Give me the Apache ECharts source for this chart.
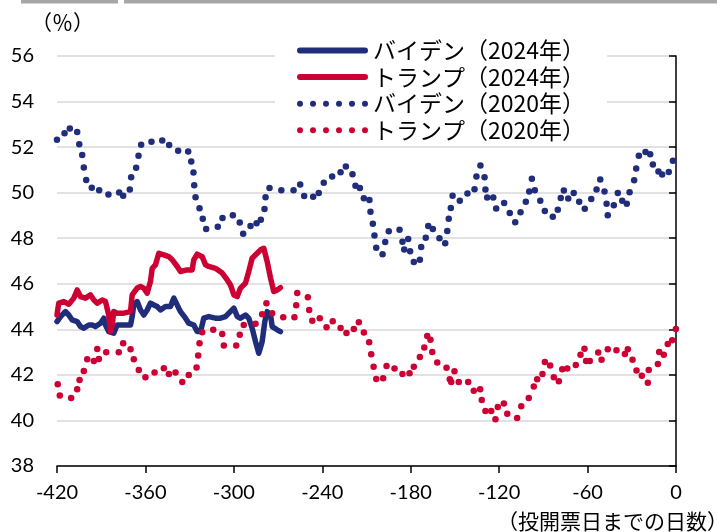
<!DOCTYPE html>
<html><head><meta charset="utf-8">
<script src="https://cdn.jsdelivr.net/npm/echarts@6/dist/echarts.min.js"></script>
<style>html,body{margin:0;padding:0;background:#fff}#c{width:717px;height:532px}</style>
</head><body><div id="c"></div>
<script>
// ---- data (x = days until election day, y = %) ----
const seriesNames = ['バイデン（2024年）','トランプ（2024年）','バイデン（2020年）','トランプ（2020年）'];
const xTicks = {min:-420, max:0, interval:60};
const yTicks = {min:38, max:56, interval:2};

const biden2024 = [[-420,44.34],[-417.6,44.56],[-414.2,44.78],[-412,44.63],[-409.7,44.41],[-406.3,44.34],[-404.1,44.12],[-401.8,44.05],[-398.4,44.19],[-396.1,44.19],[-393.9,44.12],[-390.5,44.27],[-388.2,44.49],[-387.1,44.19],[-384.9,43.9],[-381.5,43.83],[-379.2,44.19],[-375.8,44.19],[-370.1,44.19],[-369,44.56],[-367.9,45.07],[-365.6,45.22],[-363.3,44.85],[-361.1,44.63],[-358.8,44.85],[-356.6,45.15],[-354.3,45.07],[-352,45],[-349.8,44.85],[-346.4,45],[-343,45],[-340.7,45.37],[-339.6,45.32],[-337.4,44.93],[-336.2,44.78],[-332.8,44.49],[-330.6,44.27],[-327.2,44.19],[-324.9,43.9],[-322.6,43.9],[-320.4,44.49],[-317,44.56],[-312.5,44.49],[-309.1,44.49],[-305.7,44.56],[-303.4,44.71],[-300,44.93],[-297.7,44.56],[-295.5,44.49],[-292.1,44.63],[-289.9,44.49],[-287.6,44.05],[-285.3,43.46],[-283.1,42.95],[-280.8,43.46],[-279,44.34],[-277.4,44.78],[-275.1,44.63],[-274,44.12],[-270.6,43.98],[-268.4,43.9]];

const trump2024 = [[-420,44.63],[-418.8,45.15],[-415.4,45.22],[-412,45.1],[-408.6,45.37],[-406.3,45.73],[-404.1,45.44],[-400.7,45.37],[-397.3,45.51],[-395,45.29],[-392.7,45.15],[-389.3,45.29],[-387.1,45.22],[-384.9,44.63],[-383.7,43.9],[-382.5,44.19],[-381.5,44.78],[-379.2,44.71],[-374.7,44.71],[-370.1,44.78],[-369,45.51],[-365.6,45.81],[-363.3,45.88],[-361.1,45.81],[-358.8,45.59],[-356.6,46.1],[-355.4,46.68],[-353.2,46.83],[-350.9,47.34],[-347.5,47.27],[-344.1,47.19],[-341.8,47.05],[-338.4,46.76],[-336.2,46.54],[-331.7,46.61],[-328.3,46.61],[-327.2,47.05],[-324.9,47.3],[-321.5,47.19],[-319.2,46.83],[-317,46.76],[-312.5,46.68],[-307.9,46.47],[-304.5,46.17],[-302.3,45.95],[-300,45.51],[-297.7,45.44],[-295.5,45.81],[-292.1,46.03],[-289.9,46.54],[-287.6,47.12],[-284.2,47.34],[-281.9,47.49],[-279.7,47.56],[-277.4,46.98],[-275.1,46.25],[-272.9,45.66],[-270.6,45.73],[-268.4,45.83]];

const biden2020 = [[-420,52.32],[-414.9,52.61],[-411.3,52.82],[-406.3,52.66],[-404.9,52.13],[-402.9,51.65],[-401.8,51.1],[-400.2,50.56],[-396.4,50.22],[-391.4,50.11],[-385.1,49.92],[-377.8,50.01],[-375.1,49.87],[-370.6,50.14],[-369.7,50.68],[-366.3,51.09],[-364.7,51.62],[-362.9,52.1],[-355.9,52.24],[-348.6,52.29],[-343.9,52.09],[-337.8,51.84],[-331,51.81],[-328.9,51.37],[-327.4,50.88],[-326.9,50.33],[-326,49.8],[-323.3,49.32],[-321.1,48.86],[-318.8,48.41],[-310.9,48.5],[-307.7,48.89],[-300.7,49.01],[-296,48.69],[-293.7,48.2],[-288.7,48.54],[-284.6,48.66],[-281.7,48.81],[-279.2,49.28],[-278.5,49.8],[-275.8,50.2],[-267.8,50.11],[-259.5,50.11],[-255,50.36],[-252.3,49.85],[-246.2,49.82],[-242.4,49.99],[-239,50.43],[-233.3,50.71],[-227.6,50.9],[-224,51.15],[-219.5,50.81],[-217.5,50.3],[-214.5,50.21],[-211.8,49.76],[-208,49.68],[-207.3,49.16],[-205.7,48.64],[-204.6,48.12],[-203.4,47.58],[-199.1,47.3],[-197.3,47.83],[-194.9,48.31],[-187.6,48.37],[-185.6,47.84],[-184.4,47.5],[-181.7,47.97],[-180.4,47.43],[-177.9,46.96],[-173.8,47.05],[-172.9,47.61],[-169.8,48.02],[-168.1,48.54],[-165,48.41],[-160.5,48],[-156.6,47.78],[-155.2,48.32],[-154.2,48.85],[-152.8,49.33],[-151.6,49.87],[-146.7,49.64],[-141.5,49.96],[-136.7,50.15],[-135.4,50.71],[-132.7,51.19],[-129.9,50.68],[-129.3,50.14],[-128.1,49.79],[-124,49.79],[-122,49.3],[-116.6,49.55],[-112.8,49.11],[-109.1,48.7],[-105.5,49.14],[-101.9,49.6],[-99.6,50.05],[-97.8,50.61],[-95.8,50.11],[-92.1,49.65],[-89,49.2],[-83.6,48.94],[-80.2,49.25],[-78.2,49.77],[-76.1,50.09],[-73.1,49.74],[-69.4,49.99],[-65.7,49.6],[-61.9,49.29],[-57.5,49.72],[-53.9,50.14],[-51.4,50.58],[-48.5,50.05],[-47.1,49.51],[-46.3,49.01],[-42.2,49.45],[-39.5,49.98],[-36.5,49.64],[-33.4,49.51],[-31.5,50.02],[-28.4,50.55],[-27,51.06],[-25.2,51.62],[-20.7,51.79],[-17.5,51.69],[-15.7,51.24],[-11.9,50.93],[-9.4,50.8],[-4.9,50.91],[-2.1,51.4]];

const trump2020 = [[-419.5,41.59],[-418.1,41.09],[-410.4,40.98],[-406.3,41.37],[-404.7,41.78],[-401.8,42.17],[-399.5,42.69],[-395,42.61],[-392.7,43.14],[-391.6,42.7],[-386.6,42.99],[-378.1,42.99],[-375.1,43.39],[-370.1,43.13],[-367.9,42.69],[-364.5,42.22],[-360,41.9],[-353.8,42.1],[-347.5,42.29],[-344.1,42.04],[-339.6,42.1],[-335,41.69],[-330.6,41.99],[-325.3,42.32],[-324.2,42.85],[-323.3,43.39],[-321.5,43.87],[-314,43.98],[-307.9,43.79],[-306.8,43.29],[-298.4,43.29],[-296,43.76],[-293.3,44.19],[-285.3,44.24],[-280.8,44.66],[-277.9,45.15],[-274,44.71],[-266.5,44.53],[-258.9,44.53],[-257.7,45.06],[-257,45.59],[-249.8,45.41],[-248.9,44.85],[-246.8,44.38],[-241.7,44.49],[-237.1,44.09],[-232.9,44.36],[-227.6,44.06],[-223.6,43.84],[-218.6,44.02],[-215.2,44.31],[-211.8,43.86],[-208.2,43.43],[-206.8,42.91],[-205.2,42.36],[-203.4,41.82],[-198.7,41.85],[-196.4,42.39],[-191,42.28],[-185.6,42.04],[-180.8,42.07],[-177.9,42.36],[-173.8,42.78],[-170.8,43.2],[-168.8,43.71],[-166.6,43.54],[-165.4,43],[-162,42.54],[-155.7,42.31],[-153.5,41.81],[-152.5,41.69],[-150.3,42.16],[-147.4,41.69],[-141,41.69],[-137.2,41.3],[-132.9,41.37],[-131.8,40.9],[-129.3,40.41],[-125.4,40.41],[-122.5,40.05],[-120.9,40.59],[-116.8,40.74],[-114.5,40.29],[-107.8,40.11],[-105,40.62],[-99.9,40.99],[-96.5,41.49],[-94.2,41.81],[-90.6,42.04],[-89,42.57],[-85.4,42.41],[-82.9,41.9],[-79.5,41.72],[-77.2,42.25],[-73.8,42.28],[-68,42.43],[-64.8,42.88],[-62.1,43.15],[-61,42.61],[-58.5,42.61],[-52.8,42.98],[-50.5,42.67],[-46.3,43.13],[-40.4,43.08],[-34.7,42.92],[-32.7,43.13],[-29.5,42.66],[-26.8,42.19],[-23.2,41.96],[-19.1,41.66],[-18.5,42.21],[-12.3,42.48],[-11.4,43.01],[-8.3,42.88],[-5.6,43.36],[-2.6,43.52],[-0.1,44.01]];

const yUnit = '（％）';
const xName = '（投開票日までの日数）';

// ---- styling ----
const NAVY = '#1f2d7b', RED = '#cc0033';
const JP = '"Noto Sans CJK JP", sans-serif';
const NUM = 'Lato, "Liberation Sans", sans-serif';
const solidIcon = 'path://M3,0H68A3,3,0,0,1,68,6H3A3,3,0,0,1,3,0Z';
let dots = '';
for (let i = 0; i < 6; i++) { const cx = 3 + i * 13; dots += 'M' + (cx - 3) + ',3a3,3 0 1,0 6,0a3,3 0 1,0 -6,0'; }
const dotIcon = 'path://' + dots;

const chart = echarts.init(document.getElementById('c'), null, {renderer:'canvas'});
chart.setOption({
  animation:false,
  backgroundColor:'#fff',
  grid:{left:57, right:41, top:56, bottom:66},
  xAxis:{type:'value', min:xTicks.min, max:xTicks.max, interval:xTicks.interval,
    axisLine:{lineStyle:{color:'#000', width:1.5}},
    axisTick:{show:true, length:7, lineStyle:{color:'#000', width:1.5}},
    axisLabel:{color:'#000', fontSize:20, fontFamily:NUM, margin:17},
    splitLine:{show:false}},
  yAxis:{type:'value', min:yTicks.min, max:yTicks.max, interval:yTicks.interval,
    axisLine:{show:true, lineStyle:{color:'#000', width:1.5}},
    axisTick:{show:true, length:7, lineStyle:{color:'#000', width:1.5}},
    axisLabel:{color:'#000', fontSize:20, fontFamily:NUM, margin:23},
    splitLine:{show:true, lineStyle:{color:'#d9d9d9', width:1.5}}},
  legend:{orient:'vertical', left:275, top:33, backgroundColor:'#fff',
    padding:[6,22,4,22], itemWidth:71, itemHeight:6, itemGap:3.6,
    textStyle:{fontFamily:JP, fontSize:23, color:'#000', lineHeight:22},
    data:[
      {name:seriesNames[0], icon:solidIcon},
      {name:seriesNames[1], icon:solidIcon},
      {name:seriesNames[2], icon:dotIcon},
      {name:seriesNames[3], icon:dotIcon}
    ]},
  graphic:[
    {type:'rect', shape:{x:21, y:0, width:97, height:3.5}, style:{fill:'#a6a6a6'}},
    {type:'rect', shape:{x:124, y:0, width:593, height:3.5}, style:{fill:'#a6a6a6'}},
    {type:'text', x:31, y:22, style:{text:yUnit, fontSize:21, fontFamily:JP, fill:'#000', verticalAlign:'middle', textVerticalAlign:'middle'}},
    {type:'text', x:728, y:521, style:{text:xName, fontSize:21, fontFamily:JP, fill:'#000', align:'right', textAlign:'right', verticalAlign:'middle', textVerticalAlign:'middle'}}
  ],
  series:[
    {name:seriesNames[0], type:'line', data:biden2024, showSymbol:false, color:NAVY,
      lineStyle:{color:NAVY, width:5.5, cap:'round', join:'round'}},
    {name:seriesNames[1], type:'line', data:trump2024, showSymbol:false, color:RED,
      lineStyle:{color:RED, width:5.5, cap:'round', join:'round'}},
    {name:seriesNames[2], type:'line', data:biden2020, color:NAVY, symbol:'circle', symbolSize:6.5, showAllSymbol:true,
      itemStyle:{color:NAVY, borderWidth:0}, lineStyle:{width:0, opacity:0}},
    {name:seriesNames[3], type:'line', data:trump2020, color:RED, symbol:'circle', symbolSize:6.5, showAllSymbol:true,
      itemStyle:{color:RED, borderWidth:0}, lineStyle:{width:0, opacity:0}}
  ]
});
</script></body></html>
